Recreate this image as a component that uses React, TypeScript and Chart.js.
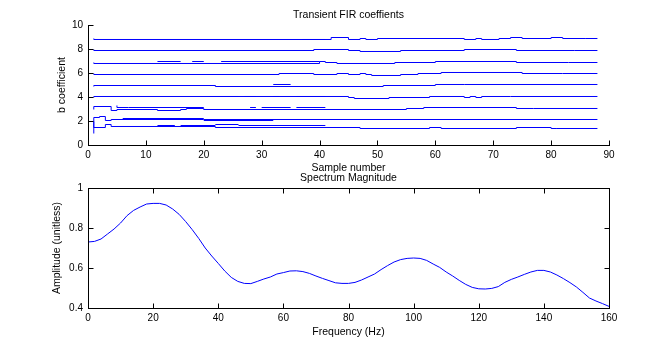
import React, { useEffect, useRef } from 'react';
import { Chart, registerables } from 'chart.js';

Chart.register(...registerables);

type Pt = [number, number];
type Band = [number, number, number]; // [fromSample, toSample, alternateValue]

const LAST_SAMPLE = 88;

// ---- Top plot: transient FIR coefficient traces (offset by index) ----
const coef9: Pt[] = [[1, 8.875], [42, 8.792], [45, 8.958], [47, 8.792], [48, 8.875], [50, 8.792], [65, 8.875], [67, 8.792], [68, 8.875], [71, 8.792], [73, 8.875], [75, 8.958], [80, 8.875], [82, 8.958], [86, 8.875]];
const ripple9: Band[] = [[37, 41, 8.792]];

const coef8: Pt[] = [[1, 7.958], [39, 7.875], [45, 7.958], [47, 7.875], [54, 7.792], [65, 7.875], [74, 7.958], [84, 7.875]];
const ripple8: Band[] = [[18, 22, 7.875], [24, 30, 7.875], [35, 39, 7.875]];

const coef7: Pt[] = [[1, 6.875], [40, 6.792], [41, 6.958], [43, 6.875], [53, 6.792], [60, 6.875], [74, 6.958], [83, 6.875]];
const ripple7: Band[] = [[12, 16, 6.958], [18, 20, 6.958], [23, 40, 6.958]];

const coef6: Pt[] = [[1, 5.958], [33, 5.875], [39, 5.958], [43, 5.875], [45, 5.958], [47, 5.875], [48, 5.958], [49, 5.875], [54, 5.792], [57, 5.875], [61, 5.958], [75, 6.042], [82, 5.958]];
const ripple6: Band[] = [[10, 16, 5.875], [17, 22, 5.875], [23, 24, 5.875], [26, 32, 5.875]];

const coef5: Pt[] = [[1, 4.875], [22, 4.958], [51, 4.875], [60, 4.958], [65, 5.042]];
const ripple5: Band[] = [[6, 7, 4.958], [9, 10, 4.958], [11, 14, 4.958], [21, 22, 4.958], [23, 24, 4.875], [32, 35, 5.042]];

const coef4: Pt[] = [[1, 3.958], [45, 4.042], [46, 3.958], [52, 3.875], [59, 3.958], [65, 4.042], [66, 3.958], [67, 4.042], [68, 3.958], [73, 4.042]];
const ripple4: Band[] = [[21, 26, 4.042], [27, 29, 4.042], [32, 33, 4.042], [36, 41, 4.042]];

const coef3: Pt[] = [[1, 2.958], [4, 3.208], [5, 2.875], [12, 2.958], [16, 2.875], [17, 2.958], [20, 3.042], [55, 2.958], [58, 3.042], [74, 3.125], [77, 3.042]];
const branch3: Pt[] = [[5, 3.292], [7, 3.125], [20, 3.125]];
const ripple3: Band[] = [[20, 21, 2.958], [28, 29, 3.125], [30, 35, 3.125], [36, 41, 3.125]];

const coef2: Pt[] = [[1, 0.958], [2, 2.292], [3, 2.375], [4, 2.042], [20, 2.125]];
const branch2: Pt[] = [[6, 2.208], [20, 2.208]];
const ripple2: Band[] = [[20, 32, 2.042]];

const coef1: Pt[] = [[1, 1.958], [3, 1.458], [4, 1.708], [22, 1.542], [47, 1.458], [59, 1.375], [61, 1.458], [74, 1.375], [80, 1.458], [81, 1.375]];
const branch1: Pt[] = [[22, 1.708], [26, 1.708]];
const ripple1: Band[] = [[12, 15, 1.625], [16, 22, 1.625], [26, 41, 1.625]];

const sampleTicks = [0, 10, 20, 30, 40, 50, 60, 70, 80, 90];
const coefTicks = [0, 2, 4, 6, 8, 10];

// ---- Bottom plot: spectrum magnitude ----
const freqHz = [0, 2, 4, 6, 8, 10, 12, 14, 16, 18, 20, 22, 24, 26, 28, 30, 32, 34, 36, 38, 40, 42, 44, 46, 48, 50, 52, 54, 56, 58, 60, 62, 64, 66, 68, 70, 72, 74, 76, 78, 80, 82, 84, 86, 88, 90, 92, 94, 96, 98, 100, 102, 104, 106, 108, 110, 112, 114, 116, 118, 120, 122, 124, 126, 128, 130, 132, 134, 136, 138, 140, 142, 144, 146, 148, 150, 152, 154, 156, 158, 160];
const magnitude = [0.730, 0.733, 0.745, 0.770, 0.795, 0.825, 0.862, 0.888, 0.905, 0.920, 0.923, 0.923, 0.915, 0.895, 0.868, 0.832, 0.792, 0.748, 0.700, 0.660, 0.623, 0.585, 0.553, 0.533, 0.523, 0.522, 0.533, 0.545, 0.555, 0.570, 0.577, 0.585, 0.586, 0.582, 0.573, 0.560, 0.548, 0.537, 0.526, 0.523, 0.523, 0.528, 0.540, 0.555, 0.570, 0.592, 0.612, 0.630, 0.642, 0.648, 0.650, 0.648, 0.638, 0.620, 0.603, 0.580, 0.560, 0.538, 0.518, 0.503, 0.496, 0.495, 0.498, 0.507, 0.528, 0.543, 0.555, 0.568, 0.580, 0.588, 0.588, 0.580, 0.565, 0.547, 0.527, 0.505, 0.478, 0.450, 0.435, 0.422, 0.408];
const freqTicks = [0, 20, 40, 60, 80, 100, 120, 140, 160];
const ampTicks = [0.4, 0.6, 0.8, 1];

const FONT = "'Liberation Sans', Arial, Helvetica, sans-serif";
const BLUE = '#0000ff';

function mainLine(pts: Pt[]) {
  const data = pts.map(([x, y]) => ({ x, y }));
  const last = pts[pts.length - 1];
  if (last[0] < LAST_SAMPLE) data.push({ x: LAST_SAMPLE, y: last[1] });
  return data;
}
function plainLine(pts: Pt[]) {
  return pts.map(([x, y]) => ({ x, y }));
}
function bandLines(bands: Band[]) {
  return bands.map(([a, b, v]) => [{ x: a, y: v }, { x: b, y: v }]);
}

function stepDs(data: { x: number; y: number }[]) {
  return {
    data,
    borderColor: BLUE,
    borderWidth: 1,
    pointRadius: 0,
    fill: false,
    stepped: 'after' as const,
    tension: 0,
  };
}

function framePlugin(title: string, box: boolean) {
  return {
    id: 'frame',
    afterDraw(chart: any) {
      const { ctx, chartArea: a, scales } = chart;
      const xs = scales.x;
      const ys = scales.y;
      const L = 5;
      ctx.save();
      ctx.strokeStyle = '#000';
      ctx.lineWidth = 1;
      ctx.beginPath();
      const top = Math.round(a.top) + 0.5;
      const bottom = Math.round(a.bottom) + 0.5;
      const left = Math.round(a.left) + 0.5;
      const right = Math.round(a.right) + 0.5;
      xs.ticks.forEach((t: any) => {
        const px = Math.round(xs.getPixelForValue(t.value)) + 0.5;
        ctx.moveTo(px, bottom);
        ctx.lineTo(px, bottom - L);
        if (box) {
          ctx.moveTo(px, top);
          ctx.lineTo(px, top + L);
        }
      });
      ys.ticks.forEach((t: any) => {
        const py = Math.round(ys.getPixelForValue(t.value)) + 0.5;
        ctx.moveTo(left, py);
        ctx.lineTo(left + L, py);
        if (box) {
          ctx.moveTo(right, py);
          ctx.lineTo(right - L, py);
        }
      });
      ctx.stroke();
      if (box) {
        ctx.strokeRect(left, top, right - left, bottom - top);
      }
      ctx.fillStyle = '#000';
      ctx.font = `10.5px ${FONT}`;
      ctx.textAlign = 'center';
      ctx.textBaseline = 'alphabetic';
      ctx.fillText(title, (a.left + a.right) / 2, a.top - 7);
      ctx.restore();
    },
  };
}

const fmt = (v: number) => String(Math.round(v * 100) / 100);

function axisX(min: number, max: number, ticks: number[], title: string, height: number) {
  return {
    type: 'linear' as const,
    min,
    max,
    afterBuildTicks: (s: any) => {
      s.ticks = ticks.map((v) => ({ value: v }));
    },
    afterFit: (s: any) => {
      s.height = height;
    },
    grid: { display: false, drawTicks: false },
    border: { display: true, color: '#000', width: 1 },
    ticks: { padding: 4, color: '#000', font: { size: 10, family: FONT }, maxRotation: 0, autoSkip: false, callback: (v: any) => fmt(Number(v)) },
    title: { display: true, text: title, color: '#000', font: { size: 10.5, family: FONT }, padding: { top: 4, bottom: 4 } },
  };
}

function axisY(min: number, max: number, ticks: number[], title: string, width: number) {
  return {
    type: 'linear' as const,
    min,
    max,
    afterBuildTicks: (s: any) => {
      s.ticks = ticks.map((v) => ({ value: v }));
    },
    afterFit: (s: any) => {
      s.width = width;
    },
    grid: { display: false, drawTicks: false },
    border: { display: true, color: '#000', width: 1 },
    ticks: { padding: 5, color: '#000', font: { size: 10, family: FONT }, autoSkip: false, callback: (v: any) => fmt(Number(v)) },
    title: { display: true, text: title, color: '#000', font: { size: 10.5, family: FONT }, padding: { top: 4, bottom: 4 } },
  };
}

export default function App() {
  const topRef = useRef<HTMLCanvasElement | null>(null);
  const botRef = useRef<HTMLCanvasElement | null>(null);

  useEffect(() => {
    const mains = [coef9, coef8, coef7, coef6, coef5, coef4, coef3, coef2, coef1].map((c) => stepDs(mainLine(c)));
    const branches = [branch3, branch2, branch1].map((b) => stepDs(plainLine(b)));
    const ripples = [ripple9, ripple8, ripple7, ripple6, ripple5, ripple4, ripple3, ripple2, ripple1]
      .flatMap((r) => bandLines(r))
      .map((d) => stepDs(d));

    const top = new Chart(topRef.current as HTMLCanvasElement, {
      type: 'line',
      data: { datasets: [...mains, ...branches, ...ripples] as any },
      options: {
        animation: false,
        responsive: false,
        devicePixelRatio: 1,
        events: [],
        layout: { padding: { left: 52, right: 63, top: 25, bottom: 167.5 } },
        plugins: { legend: { display: false }, tooltip: { enabled: false }, title: { display: false } },
        scales: {
          x: axisX(0, 90, sampleTicks, 'Sample number', 33.5),
          y: axisY(0, 10, coefTicks, 'b coefficient', 36),
        } as any,
      },
      plugins: [framePlugin('Transient FIR coeffients', false)],
    });

    const bottom = new Chart(botRef.current as HTMLCanvasElement, {
      type: 'line',
      data: {
        datasets: [
          {
            data: freqHz.map((f, i) => ({ x: f, y: magnitude[i] })),
            borderColor: BLUE,
            borderWidth: 1,
            pointRadius: 0,
            fill: false,
            tension: 0,
          },
        ] as any,
      },
      options: {
        animation: false,
        responsive: false,
        devicePixelRatio: 1,
        events: [],
        layout: { padding: { left: 47, right: 63, top: 188, bottom: 4 } },
        plugins: { legend: { display: false }, tooltip: { enabled: false }, title: { display: false } },
        scales: {
          x: axisX(0, 160, freqTicks, 'Frequency (Hz)', 34),
          y: axisY(0.4, 1, ampTicks, 'Amplitude (unitless)', 41),
        } as any,
      },
      plugins: [framePlugin('Spectrum Magnitude', true)],
    });

    return () => {
      top.destroy();
      bottom.destroy();
    };
  }, []);

  return (
    <div style={{ position: 'fixed', left: 0, top: 0, width: 672, height: 346, background: '#fff' }}>
      <canvas ref={topRef} width={672} height={346} style={{ position: 'absolute', left: 0, top: 0 }} />
      <canvas ref={botRef} width={672} height={346} style={{ position: 'absolute', left: 0, top: 0 }} />
    </div>
  );
}
